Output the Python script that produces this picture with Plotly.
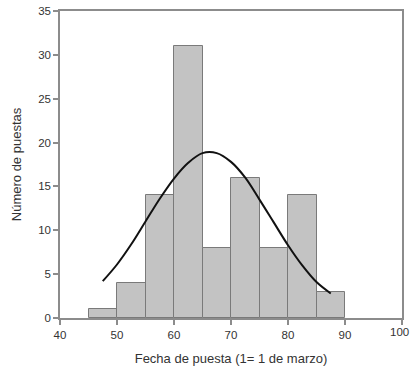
import plotly.graph_objects as go

# Histogram of laying dates (bins of 5 days)
bin_centers = [47.5, 52.5, 57.5, 62.5, 67.5, 72.5, 77.5, 82.5, 87.5]
counts = [1, 4, 14, 31, 8, 16, 8, 14, 3]

# Fitted normal curve
curve_x = [47.5, 50, 52.5, 55, 57.5, 60, 62.5, 65, 67.5, 70, 72.5, 75, 77.5, 80, 82.5, 85, 87.5]
curve_y = [4.2, 6.1, 8.4, 11.0, 13.6, 15.9, 17.7, 18.8, 18.8, 17.8, 16.0, 13.5, 10.9, 8.3, 6.0, 4.1, 2.8]

x_ticks = [40, 50, 60, 70, 80, 90, 100]
y_ticks = [0, 5, 10, 15, 20, 25, 30, 35]

font_family = "Liberation Sans, Arial, sans-serif"
axis_color = "#8c8c8c"
text_color = "#333333"

fig = go.Figure()
fig.add_trace(go.Bar(
    x=bin_centers, y=counts, width=5,
    marker=dict(color="#c3c3c3", line=dict(color="#7a7a7a", width=1)),
    showlegend=False,
))
fig.add_trace(go.Scatter(
    x=curve_x, y=curve_y, mode="lines",
    line=dict(color="#111111", width=2, shape="spline"),
    showlegend=False,
))

fig.update_layout(
    width=410, height=369,
    margin=dict(l=60, r=8, t=11, b=51),
    paper_bgcolor="white", plot_bgcolor="white",
    font=dict(family=font_family, color=text_color, size=11),
    bargap=0,
)
# the last x label sits against the right page edge, so it is placed as an annotation
fig.update_xaxes(
    range=[40, 100], tickvals=x_ticks,
    ticktext=[str(v) if v != x_ticks[-1] else "" for v in x_ticks],
    showline=True, linecolor=axis_color, linewidth=1.5, mirror=True,
    ticks="outside", ticklen=5, tickcolor=axis_color, tickwidth=1.5,
    showgrid=False, zeroline=False, automargin=False,
    tickfont=dict(size=11.5, color=text_color),
    title=dict(text="Fecha de puesta (1= 1 de marzo)", font=dict(size=13, color=text_color), standoff=14),
)
fig.add_annotation(
    x=x_ticks[-1], xref="x", xanchor="right", xshift=9,
    y=0, yref="paper", yanchor="top", yshift=-6,
    text=str(x_ticks[-1]), showarrow=False,
    font=dict(size=11.5, color=text_color),
)
fig.update_yaxes(
    range=[0, 35], tickvals=y_ticks, ticktext=[str(v) for v in y_ticks],
    showline=True, linecolor=axis_color, linewidth=1.5, mirror=True,
    ticks="outside", ticklen=5, tickcolor=axis_color, tickwidth=1.5,
    showgrid=False, zeroline=False, automargin=False,
    tickfont=dict(size=11.5, color=text_color),
    title=dict(text="Número de puestas", font=dict(size=13, color=text_color), standoff=14),
)

fig.write_html("out.html")
